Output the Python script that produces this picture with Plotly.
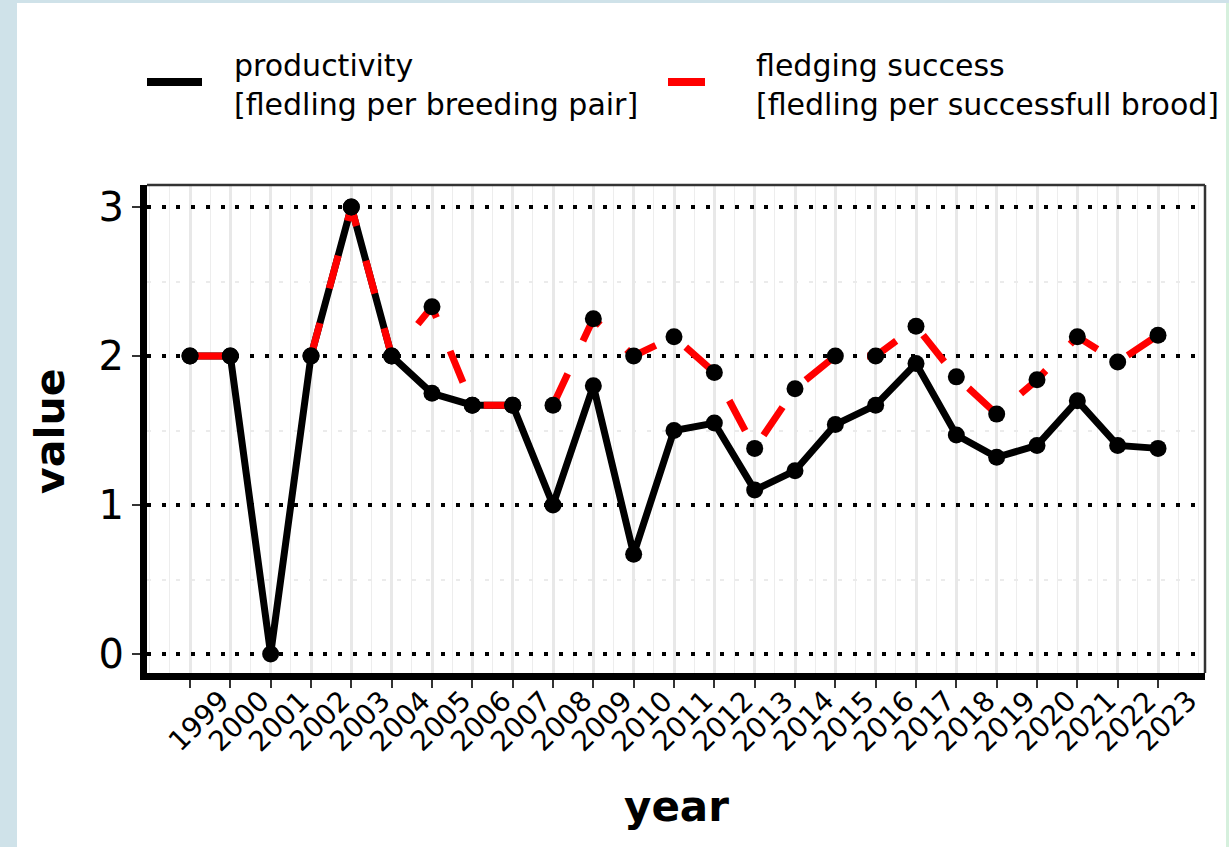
import plotly.graph_objects as go

# ---------------- data ----------------
years = list(range(1999, 2024))
year_labels = [str(y) for y in years]
productivity = [2, 2, 0, 2, 3, 2, 1.75, 1.67, 1.67, 1.0, 1.8, 0.67, 1.5, 1.55,
                1.1, 1.23, 1.54, 1.67, 1.95, 1.47, 1.32, 1.4, 1.7, 1.4, 1.38]
fledging = [2, 2, None, 2, 3, 2, 2.33, 1.67, 1.67, 1.67, 2.25, 2.0, 2.13, 1.89,
            1.38, 1.78, 2.0, 2.0, 2.2, 1.86, 1.61, 1.84, 2.13, 1.96, 2.14]
y_ticks = [0, 1, 2, 3]
legend_labels = ["productivity<br>[fledling per breeding pair]",
                 "fledging success<br>[fledling per successfull brood]"]

# ---------------- layout constants ----------------
W, H = 1229, 847
ML, MR, MT, MB = 147, 24, 185, 174
PW, PH = W - ML - MR, H - MT - MB
FONT = "DejaVu Sans"

def px_x(p):
    return (p - ML) / PW

def px_y(q):
    return (H - MB - q) / PH

fig = go.Figure()

# lines
fig.add_trace(go.Scatter(x=years, y=productivity, mode="lines",
                         line=dict(color="black", width=7),
                         name="productivity", showlegend=False, hoverinfo="skip"))
fig.add_trace(go.Scatter(x=years, y=fledging, mode="lines",
                         line=dict(color="#FF0000", width=7, dash="34px,36px"),
                         connectgaps=False,
                         name="fledging success", showlegend=False, hoverinfo="skip"))
# points on top
fig.add_trace(go.Scatter(x=years, y=productivity, mode="markers",
                         marker=dict(color="black", size=17),
                         name="productivity", showlegend=False))
fig.add_trace(go.Scatter(x=years, y=fledging, mode="markers",
                         marker=dict(color="black", size=17),
                         name="fledging success", showlegend=False))

minor_x = [1998] + [y + 0.5 for y in [1998] + years] + [2024]

fig.update_xaxes(
    range=[1997.934, 2024.165],
    tickmode="array", tickvals=years, showticklabels=False,
    ticks="outside", ticklen=8, tickwidth=2, tickcolor="#333333",
    showline=True, linecolor="black", linewidth=7,
    showgrid=True, gridcolor="#E8E8E8", gridwidth=3,
    minor=dict(tickmode="array", tickvals=minor_x, showgrid=True,
               gridcolor="#EDEDED", gridwidth=1.3, ticks=""),
    zeroline=False,
)
fig.update_yaxes(
    range=[-0.1275, 3.1477],
    tickmode="array", tickvals=y_ticks, ticktext=[str(v) for v in y_ticks],
    tickfont=dict(family=FONT, size=40, color="black"),
    ticks="outside", ticklen=8, tickwidth=2, tickcolor="#333333",
    showline=True, linecolor="black", linewidth=7,
    showgrid=True, gridcolor="black", gridwidth=4, griddash="4px,10.7px",
    minor=dict(tickmode="array", tickvals=[0.5, 1.5, 2.5], showgrid=True,
               gridcolor="#EBEBEB", gridwidth=1.5, ticks=""),
    zeroline=False,
)

annotations = []
# x tick labels, rotated about their centre
for yr, lab in zip(years, year_labels):
    annotations.append(dict(x=yr, y=0, xref="x", yref="paper", text=lab,
                            textangle=-45, showarrow=False,
                            xanchor="center", yanchor="middle",
                            xshift=8, yshift=-48,
                            font=dict(family=FONT, size=28, color="black")))
# axis titles
annotations.append(dict(x=0.5, y=0, xref="paper", yref="paper", text="<b>year</b>",
                        showarrow=False, xanchor="center", yanchor="middle",
                        yshift=-133, font=dict(family=FONT, size=42, color="black")))
annotations.append(dict(x=0, y=px_y(432), xref="paper", yref="paper", text="<b>value</b>",
                        textangle=-90, showarrow=False, xanchor="center", yanchor="middle",
                        xshift=50 - ML, font=dict(family=FONT, size=41, color="black")))
# legend texts
for lab, xpix in zip(legend_labels, [232, 754]):
    annotations.append(dict(x=0, y=1, xref="paper", yref="paper", text=lab, align="left",
                            showarrow=False, xanchor="left", yanchor="middle",
                            xshift=xpix - ML, yshift=MT - 85,
                            font=dict(family=FONT, size=30, color="black")))

shapes = [
    # page background strips
    dict(type="rect", xref="paper", yref="paper", x0=px_x(0), x1=px_x(17),
         y0=px_y(H), y1=px_y(0), fillcolor="#CFE2E9", line=dict(width=0), layer="below"),
    dict(type="rect", xref="paper", yref="paper", x0=px_x(0), x1=px_x(W),
         y0=px_y(3), y1=px_y(0), fillcolor="#CFE2E9", line=dict(width=0), layer="below"),
    dict(type="rect", xref="paper", yref="paper", x0=px_x(1226), x1=px_x(W),
         y0=px_y(H), y1=px_y(3), fillcolor="#D6F0DD", line=dict(width=0), layer="below"),
    # panel border (top, right)
    dict(type="line", xref="paper", yref="paper", x0=0, x1=1, y0=1, y1=1,
         line=dict(color="#333333", width=2.5)),
    dict(type="line", xref="paper", yref="paper", x0=1, x1=1, y0=0, y1=1,
         line=dict(color="#333333", width=2.5)),
    # legend keys
    dict(type="line", xref="paper", yref="paper", x0=px_x(147), x1=px_x(202),
         y0=px_y(82), y1=px_y(82), line=dict(color="black", width=8)),
    dict(type="line", xref="paper", yref="paper", x0=px_x(668), x1=px_x(705),
         y0=px_y(82), y1=px_y(82), line=dict(color="#FF0000", width=8)),
]

fig.update_layout(
    width=W, height=H,
    margin=dict(l=ML, r=MR, t=MT, b=MB, pad=0),
    paper_bgcolor="white", plot_bgcolor="white",
    font=dict(family=FONT, color="black"),
    showlegend=False,
    annotations=annotations,
    shapes=shapes,
)

fig.write_html("out.html",
               config={"displayModeBar": False},
               post_script="document.body.style.margin='0px';"
                           "document.body.style.overflow='hidden';")
